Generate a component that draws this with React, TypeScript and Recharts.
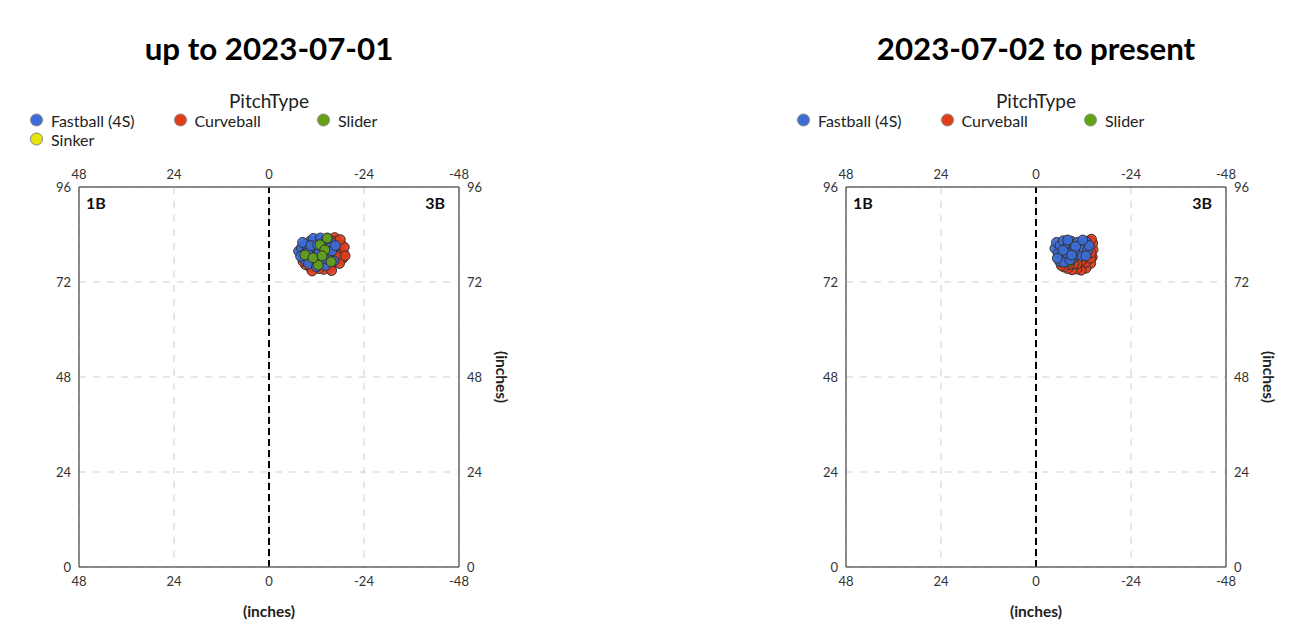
import React from 'react';
import { ScatterChart, Scatter, XAxis, YAxis, CartesianGrid, ReferenceLine } from 'recharts';

const X_TICKS = [48, 24, 0, -24, -48];
const Y_TICKS = [0, 24, 48, 72, 96];
const PITCH_TYPES = ['Fastball (4S)', 'Curveball', 'Slider', 'Sinker'];
const PITCH_COLORS = ['#3b6bd6', '#e03c1c', '#62a314', '#e6e40a'];

// Left panel: up to 2023-07-01  ([horizontal inches, height inches])
const leftFastball: number[][] = [
  [-7.5, 79.8], [-8.2, 80.6], [-8.8, 79.0], [-9.3, 81.5], [-9.6, 78.2], [-10.1, 80.3], [-10.4, 82.3],
  [-10.8, 77.4], [-11.0, 79.5], [-11.5, 81.0], [-11.8, 76.8], [-12.2, 78.6], [-12.5, 82.6], [-12.9, 80.1],
  [-13.2, 77.6], [-13.6, 81.6], [-14.0, 79.3], [-14.3, 76.2], [-14.7, 80.8], [-15.1, 78.4], [-15.5, 82.0],
  [-15.9, 79.9], [-16.4, 77.3], [-9.0, 77.6], [-10.0, 76.6], [-8.5, 82.0], [-11.2, 83.0], [-12.0, 75.8],
  [-13.0, 83.1], [-14.6, 82.9], [-16.8, 81.2], [-9.8, 79.3], [-11.4, 78.0], [-12.7, 79.6],
  [-13.9, 78.0], [-10.6, 81.2], [-8.0, 78.5], [-12.3, 81.4],
];
const leftCurveball: number[][] = [
  [-17.5, 80.2], [-18.2, 81.4], [-18.8, 79.3], [-19.0, 80.8], [-17.9, 78.1], [-16.6, 83.2], [-17.1, 82.3],
  [-18.5, 77.8], [-16.0, 76.4], [-15.0, 75.6], [-13.8, 75.2], [-12.6, 75.4], [-11.4, 76.0], [-10.3, 75.8],
  [-9.2, 76.4], [-16.2, 80.4], [-15.7, 81.3], [-17.8, 76.7], [-19.2, 78.6], [-16.3, 82.2],
  [-14.9, 83.0], [-16.9, 78.6], [-18.0, 82.7], [-15.8, 74.9], [-10.9, 74.8], [-8.6, 77.2],
];
const leftSlider: number[][] = [
  [-12.9, 81.4], [-14.1, 80.1], [-12.4, 76.3], [-9.1, 78.8], [-14.7, 83.1], [-11.1, 78.1],
  [-15.7, 77.1], [-13.4, 78.6],
];
const leftSinker: number[][] = [[-12.6, 78.9], [-13.5, 79.8]];

// Right panel: 2023-07-02 to present
const rightFastball: number[][] = [
  [-4.8, 80.5], [-5.2, 82.0], [-5.6, 79.2], [-6.1, 81.3], [-6.5, 78.3], [-6.9, 82.4], [-7.3, 80.2],
  [-7.7, 78.2], [-8.1, 81.7], [-8.5, 79.4], [-8.9, 82.3], [-9.3, 78.0], [-9.7, 80.6], [-10.1, 78.9],
  [-10.5, 82.0], [-10.9, 79.9], [-11.3, 81.3], [-11.7, 78.6], [-12.1, 80.5], [-12.6, 82.2], [-13.0, 79.8],
  [-6.0, 77.2], [-7.0, 77.0], [-5.4, 78.0], [-8.6, 77.6], [-12.6, 78.6],
  [-13.4, 81.2], [-7.8, 79.3], [-10.0, 81.0], [-6.8, 80.0], [-11.8, 82.6], [-9.0, 78.8], [-8.0, 82.6],
];
const rightCurveball: number[][] = [
  [-14.4, 80.2], [-14.2, 78.3], [-13.8, 76.7], [-12.6, 75.5], [-11.4, 75.0], [-10.3, 75.3], [-9.1, 75.1],
  [-8.0, 75.4], [-13.4, 82.4], [-14.3, 81.8], [-12.6, 77.0], [-11.4, 77.3], [-10.4, 76.6], [-9.5, 76.6],
  [-8.4, 76.4], [-13.8, 78.0], [-13.9, 79.4], [-7.0, 75.8], [-14.0, 82.8], [-6.4, 76.2],
];
const rightSlider: number[][] = [[-6.2, 78.8], [-7.4, 77.3], [-8.4, 77.2], [-5.8, 79.8]];

const FONT = 'Lato, "Open Sans", sans-serif';
const CHART_W = 560;
const CHART_H = 643;

type Series = { name: string; color: string; points: number[][] };

const toData = (pts: number[][]) => pts.map(([x, y]) => ({ x, y }));

const Dot = (color: string) => (props: any) => (
  <circle cx={props.cx} cy={props.cy} r={5} fill={color} fillOpacity={0.92} stroke="#333" strokeWidth={1} />
);

const tickStyle = { fontSize: 13, fill: '#333', fontFamily: FONT };

function Panel({ left, title, drawOrder, legendNames }: { left: number; title: string; drawOrder: Series[]; legendNames: string[] }) {
  return (
    <div style={{ position: 'absolute', left, top: 0, width: CHART_W, height: CHART_H, fontFamily: FONT }}>
      <div style={{ position: 'absolute', left: 269, top: 48, transform: 'translate(-50%,-50%)', fontSize: 31.3, fontWeight: 700, color: '#000', whiteSpace: 'nowrap' }}>{title}</div>
      <div style={{ position: 'absolute', left: 269, top: 100, transform: 'translate(-50%,-50%)', fontSize: 19, color: '#222', whiteSpace: 'nowrap' }}>PitchType</div>
      {legendNames.map((n, i) => {
        const col = i % 3;
        const row = Math.floor(i / 3);
        const color = PITCH_COLORS[PITCH_TYPES.indexOf(n)];
        return (
          <div key={n} style={{ position: 'absolute', left: 30 + col * 143.5, top: 120 + row * 19, transform: 'translateY(-50%)', display: 'flex', alignItems: 'center', whiteSpace: 'nowrap' }}>
            <span style={{ display: 'inline-block', width: 11, height: 11, borderRadius: '50%', background: color, border: '1px solid #888', marginRight: 8 }} />
            <span style={{ fontSize: 16, color: '#222' }}>{n}</span>
          </div>
        );
      })}
      <div style={{ position: 'absolute', left: 86, top: 202, transform: 'translateY(-50%)', fontSize: 16, fontWeight: 700, color: '#111' }}>1B</div>
      <div style={{ position: 'absolute', right: CHART_W - 445, top: 202, transform: 'translateY(-50%)', fontSize: 16, fontWeight: 700, color: '#111' }}>3B</div>
      <div style={{ position: 'absolute', left: 269, top: 611, transform: 'translate(-50%,-50%)', fontSize: 15.5, fontWeight: 700, color: '#222' }}>(inches)</div>
      <div style={{ position: 'absolute', left: 502, top: 377, transform: 'translate(-50%,-50%) rotate(90deg)', fontSize: 15.5, fontWeight: 700, color: '#222', whiteSpace: 'nowrap' }}>(inches)</div>
      <div style={{ position: 'absolute', left: 0, top: 0 }}>
        <ScatterChart width={CHART_W} height={CHART_H} margin={{ top: 167, right: 71, bottom: 56, left: 49 }}>
          <CartesianGrid stroke="#cfcfcf" strokeDasharray="7 7" />
          <XAxis type="number" dataKey="x" xAxisId={0} orientation="bottom" domain={[-48, 48]} reversed ticks={X_TICKS} interval={0}
            height={20} tickLine={false} tickMargin={4} axisLine={{ stroke: '#666', strokeWidth: 1.5 }} tick={tickStyle} allowDataOverflow />
          <XAxis type="number" dataKey="x" xAxisId="top" orientation="top" domain={[-48, 48]} reversed ticks={X_TICKS} interval={0}
            height={20} tickLine={false} axisLine={{ stroke: '#666', strokeWidth: 1.5 }} tick={tickStyle} allowDataOverflow />
          <YAxis type="number" dataKey="y" yAxisId={0} orientation="left" domain={[0, 96]} ticks={Y_TICKS} interval={0}
            width={30} tickLine={false} axisLine={{ stroke: '#666', strokeWidth: 1.5 }} tick={tickStyle} allowDataOverflow />
          <YAxis type="number" dataKey="y" yAxisId="right" orientation="right" domain={[0, 96]} ticks={Y_TICKS} interval={0}
            width={30} tickLine={false} axisLine={{ stroke: '#666', strokeWidth: 1.5 }} tick={tickStyle} allowDataOverflow />
          <ReferenceLine x={0} xAxisId={0} yAxisId={0} stroke="#000" strokeWidth={2} strokeDasharray="7 4" />
          {drawOrder.map((s) => (
            <Scatter key={s.name} name={s.name} data={toData(s.points)} xAxisId={0} yAxisId={0}
              shape={Dot(s.color)} isAnimationActive={false} />
          ))}
        </ScatterChart>
      </div>
    </div>
  );
}

export default function App() {
  const leftOrder: Series[] = [
    { name: PITCH_TYPES[3], color: PITCH_COLORS[3], points: leftSinker },
    { name: PITCH_TYPES[1], color: PITCH_COLORS[1], points: leftCurveball },
    { name: PITCH_TYPES[0], color: PITCH_COLORS[0], points: leftFastball },
    { name: PITCH_TYPES[2], color: PITCH_COLORS[2], points: leftSlider },
  ];
  const rightOrder: Series[] = [
    { name: PITCH_TYPES[1], color: PITCH_COLORS[1], points: rightCurveball },
    { name: PITCH_TYPES[2], color: PITCH_COLORS[2], points: rightSlider },
    { name: PITCH_TYPES[0], color: PITCH_COLORS[0], points: rightFastball },
  ];
  return (
    <div style={{ position: 'absolute', left: 0, top: 0, width: 1301, height: 643, background: '#fff', overflow: 'hidden' }}>
      <Panel left={0} title="up to 2023-07-01" drawOrder={leftOrder} legendNames={PITCH_TYPES} />
      <Panel left={767} title="2023-07-02 to present" drawOrder={rightOrder} legendNames={PITCH_TYPES.slice(0, 3)} />
    </div>
  );
}
